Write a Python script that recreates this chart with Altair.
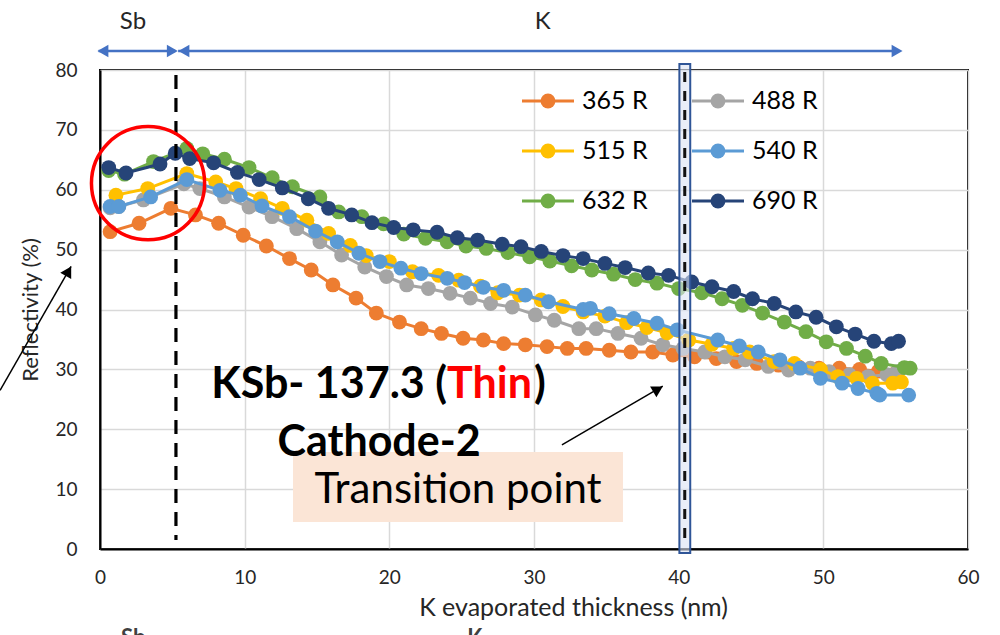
import altair as alt
import pandas as pd

# ---- measured reflectivity series (x: K thickness in nm, y: reflectivity in %) ----
series_names = ["365 R", "488 R", "515 R", "540 R", "632 R", "690 R"]
series_colors = ["#ed7d31", "#a5a5a5", "#ffc000", "#5b9bd5", "#70ad47", "#264478"]

x_365 = [0.7, 2.7, 4.9, 6.6, 8.2, 9.9, 11.5, 13.1, 14.6, 16.1, 17.7, 19.1, 20.7, 22.2, 23.6, 25.1,
         26.5, 27.9, 29.4, 30.9, 32.3, 33.6, 35.2, 36.7, 38.2, 39.6, 41.1, 42.6, 44.0, 45.4, 46.9,
         48.3, 49.7, 51.1, 52.5, 53.8, 55.0]
y_365 = [53.0, 54.4, 56.9, 55.8, 54.4, 52.4, 50.6, 48.5, 46.6, 44.1, 41.9, 39.4, 37.9, 36.8, 36.0, 35.2,
         34.9, 34.3, 34.1, 33.8, 33.5, 33.5, 33.2, 32.9, 32.9, 32.4, 32.1, 31.8, 31.3, 31.0, 30.7,
         30.4, 30.2, 30.2, 30.0, 29.7, 29.4]

x_488 = [0.7, 1.3, 3.0, 5.8, 6.9, 8.6, 10.3, 11.9, 13.6, 15.2, 16.7, 18.3, 19.8, 21.2, 22.7, 24.2,
         25.6, 27.0, 28.5, 30.1, 31.4, 33.1, 34.3, 35.8, 37.4, 38.9, 40.3, 41.8, 43.2, 44.6, 46.2,
         47.6, 49.1, 50.4, 51.8, 53.1, 54.4, 55.1]
y_488 = [57.0, 57.2, 58.3, 61.0, 60.2, 58.8, 57.1, 55.5, 53.5, 51.3, 49.1, 47.1, 45.5, 44.1, 43.5, 42.7,
         41.9, 41.0, 40.4, 39.1, 38.2, 36.8, 36.8, 36.0, 35.2, 34.1, 33.5, 32.9, 32.1, 31.6, 30.5,
         29.9, 30.2, 29.6, 29.1, 28.8, 29.1, 29.6]

x_515 = [1.1, 3.3, 6.0, 8.0, 9.4, 11.1, 12.6, 14.3, 15.8, 17.3, 18.4, 20.0, 21.6, 23.4, 24.8, 26.3,
         27.5, 29.0, 30.5, 32.0, 33.4, 34.9, 36.4, 37.8, 39.2, 40.7, 42.3, 43.8, 44.9, 46.6, 48.0,
         49.8, 51.0, 52.3, 53.4, 54.8, 55.4]
y_515 = [59.1, 60.2, 62.7, 61.3, 60.2, 58.5, 56.9, 54.9, 52.7, 50.7, 49.0, 48.0, 46.3, 45.7, 44.9, 43.9,
         42.8, 42.4, 41.6, 40.5, 39.6, 38.9, 37.8, 37.0, 36.1, 34.9, 34.2, 33.5, 32.9, 31.3, 31.0,
         30.0, 28.8, 28.5, 27.7, 27.7, 27.9]

x_540 = [0.7, 1.3, 3.5, 6.0, 8.3, 9.7, 11.2, 13.1, 14.9, 16.4, 17.9, 19.35, 20.8, 22.2, 24.0, 25.2,
         26.5, 27.9, 29.4, 31.0, 33.4, 33.9, 35.2, 36.9, 38.5, 39.9, 42.7, 44.2, 45.5, 47.0, 48.4,
         49.8, 51.3, 52.4, 53.7, 53.9, 55.9]
y_540 = [57.2, 57.2, 58.8, 61.7, 59.9, 59.1, 57.3, 55.5, 53.1, 51.3, 49.4, 48.0, 46.9, 46.0, 45.2, 44.5,
         43.7, 43.2, 42.4, 41.3, 40.0, 40.2, 39.3, 38.5, 37.7, 36.6, 34.9, 33.9, 32.9, 31.6, 30.2,
         28.5, 27.7, 26.8, 26.0, 25.7, 25.7]

x_632 = [0.6, 1.7, 3.7, 6.0, 7.1, 8.6, 10.3, 11.9, 13.3, 15.2, 16.5, 18.1, 19.6, 21.0, 22.5, 24.0,
         25.3, 26.7, 28.2, 29.7, 31.1, 32.6, 34.0, 35.5, 37.0, 38.5, 40.0, 41.6, 43.0, 44.4, 45.8,
         47.3, 48.8, 50.2, 51.6, 52.9, 54.0, 55.6, 56.0]
y_632 = [63.2, 62.6, 64.7, 66.9, 66.0, 65.1, 63.7, 62.0, 60.5, 58.8, 56.3, 55.5, 54.3, 52.6, 51.9, 51.3,
         50.6, 50.2, 49.5, 48.8, 48.1, 47.3, 46.6, 45.9, 45.0, 44.4, 43.5, 42.8, 41.8, 40.7, 39.4,
         37.9, 36.3, 34.6, 33.5, 32.2, 31.0, 30.3, 30.2]

x_690 = [0.6, 1.8, 4.15, 5.2, 6.2, 7.85, 9.5, 11.0, 12.6, 14.4, 15.8, 17.4, 18.8, 20.3, 21.65, 23.3,
         24.7, 26.1, 27.8, 29.1, 30.5, 32.0, 33.4, 34.9, 36.3, 37.9, 39.3, 40.9, 42.3, 43.8, 45.1,
         46.6, 48.1, 49.5, 50.9, 52.2, 53.5, 54.7, 55.2]
y_690 = [63.7, 62.8, 64.3, 66.1, 65.2, 64.5, 62.9, 61.7, 60.3, 58.5, 56.9, 55.8, 54.5, 53.7, 53.3, 52.9,
         52.0, 51.6, 50.9, 50.5, 49.7, 49.0, 48.5, 47.7, 47.0, 46.1, 45.7, 44.6, 43.8, 43.0, 41.8,
         41.0, 39.6, 38.7, 37.1, 35.9, 34.7, 34.3, 34.7]

series_x = [x_365, x_488, x_515, x_540, x_632, x_690]
series_y = [y_365, y_488, y_515, y_540, y_632, y_690]

# ---- annotation anchors (data units) ----
sb_boundary = 5.25          # end of Sb deposition
transition_x = 40.42        # transition point
transition_span = [40.05, 40.8]

FONT = "Lato"
W, H = 868, 479
MARK_SIZE = 220

xs = alt.Scale(domain=[0, 60], nice=False, zero=False)
ys = alt.Scale(domain=[0, 80], nice=False, zero=False)

x_axis = alt.Axis(
    title="K evaporated thickness (nm)", values=[0, 10, 20, 30, 40, 50, 60],
    grid=True, gridColor="#d9d9d9", gridWidth=1.5, ticks=False,
    domainColor="black", domainWidth=2, labelFontSize=19, labelFont=FONT,
    labelColor="#262626", labelPadding=19, labelFlush=False,
    titleFontSize=25, titleFont=FONT, titleFontWeight="normal", titleColor="#262626",
    titlePadding=8, titleX=473,
)
y_axis = alt.Axis(
    title="Reflectivity (%)", values=[0, 10, 20, 30, 40, 50, 60, 70, 80],
    grid=True, gridColor="#d9d9d9", gridWidth=1.5, ticks=False,
    domainColor="black", domainWidth=2, labelFontSize=19, labelFont=FONT,
    labelColor="#262626", labelPadding=23, labelFlush=False,
    titleFontSize=22, titleFont=FONT, titleFontWeight="normal", titleColor="#262626",
    titlePadding=12,
)


def X(field):
    return alt.X(f"{field}:Q", scale=xs, axis=x_axis)


def Y(field):
    return alt.Y(f"{field}:Q", scale=ys, axis=y_axis)


layers = []

# text box behind "Transition point"
box = pd.DataFrame({"x": [13.34], "x2": [36.15], "y": [4.5], "y2": [16.2]})
layers.append(alt.Chart(box).mark_rect(fill="#fbe5d6").encode(
    x=X("x"), x2="x2", y=Y("y"), y2="y2"))

# data series: line then markers, one series at a time
for name, color, xv, yv in zip(series_names, series_colors, series_x, series_y):
    df = pd.DataFrame({"x": xv, "y": yv, "series": name})
    base = alt.Chart(df)
    layers.append(base.mark_line(color=color, strokeWidth=3).encode(x=X("x"), y=Y("y")))
    layers.append(base.mark_circle(color=color, size=MARK_SIZE, opacity=1).encode(x=X("x"), y=Y("y")))

# dashed boundary between Sb and K
sb_df = pd.DataFrame({"x": [sb_boundary]})
layers.append(alt.Chart(sb_df).mark_rule(color="black", strokeWidth=3.2, strokeDash=[14, 9]).encode(
    x=X("x"), y=alt.value(5), y2=alt.value(470)))

# transition marker: framed band with dashed core
tr_df = pd.DataFrame({"x": [transition_span[0]], "x2": [transition_span[1]]})
layers.append(alt.Chart(tr_df).mark_rect(fill="#dae3f3", fillOpacity=0.6, stroke="#2f5597",
                                         strokeWidth=2).encode(
    x=X("x"), x2="x2", y=alt.value(-6), y2=alt.value(483)))
trc_df = pd.DataFrame({"x": [transition_x]})
layers.append(alt.Chart(trc_df).mark_rule(color="#111111", strokeWidth=3, strokeDash=[10, 9]).encode(
    x=X("x"), y=alt.value(2), y2=alt.value(476)))

# red circle around the Sb region
circ = pd.DataFrame({"x": [3.32], "y": [61.1]})
layers.append(alt.Chart(circ).mark_point(shape="circle", size=12800, filled=False, color="#ff0000",
                                         strokeWidth=3.5, opacity=1).encode(x=X("x"), y=Y("y")))

# top range arrows (Sb / K)
ARROW_BLUE = "#4472c4"
spans = pd.DataFrame({"x": [-0.1, 5.4], "x2": [5.2, 55.2]})
layers.append(alt.Chart(spans).mark_rule(color=ARROW_BLUE, strokeWidth=2.5).encode(
    x=X("x"), x2="x2", y=alt.value(-19)))
heads = pd.DataFrame({"x": [0.2, 5.0, 5.8, 55.1],
                      "shape": ["triangle-left", "triangle-right", "triangle-left", "triangle-right"]})
layers.append(alt.Chart(heads).mark_point(filled=True, size=160, color=ARROW_BLUE, opacity=1).encode(
    x=X("x"), y=alt.value(-19), shape=alt.Shape("shape:N", scale=None)))
top_labels = pd.DataFrame({"x": [2.28, 30.6], "t": ["Sb", "K"]})
layers.append(alt.Chart(top_labels).mark_text(font=FONT, fontSize=24, color="#262626",
                                              baseline="middle").encode(
    x=X("x"), y=alt.value(-48), text="t:N"))

# black pointer arrows
arrows = pd.DataFrame({"x": [-6.91, 31.93], "y": [26.5, 17.4], "x2": [-2.0, 38.9], "y2": [47.2, 27.2]})
layers.append(alt.Chart(arrows).mark_rule(color="black", strokeWidth=1.5).encode(
    x=X("x"), y=Y("y"), x2="x2", y2="y2"))
arrow_heads = pd.DataFrame({"x": [-2.18, 38.57], "y": [46.4, 26.7], "angle": [30, 60]})
layers.append(alt.Chart(arrow_heads).mark_point(shape="triangle-up", filled=True, size=160,
                                                color="black", opacity=1).encode(
    x=X("x"), y=Y("y"), angle=alt.Angle("angle:Q", scale=None)))

# annotation texts
BIG = 43
t1 = pd.DataFrame({"x": [23.99], "y": [25.2], "t": ["KSb- 137.3 ("]})
layers.append(alt.Chart(t1).mark_text(font=FONT, fontWeight="bold", fontSize=BIG, color="black",
                                      align="right", baseline="alphabetic").encode(
    x=X("x"), y=Y("y"), text="t:N"))
t2 = pd.DataFrame({"x": [23.99], "y": [25.2], "t": ["Thin"]})
layers.append(alt.Chart(t2).mark_text(font=FONT, fontWeight="bold", fontSize=BIG, color="#ff0000",
                                      align="left", baseline="alphabetic").encode(
    x=X("x"), y=Y("y"), text="t:N"))
t3 = pd.DataFrame({"x": [30.0], "y": [25.2], "t": [")"]})
layers.append(alt.Chart(t3).mark_text(font=FONT, fontWeight="bold", fontSize=BIG, color="black",
                                      align="left", baseline="alphabetic").encode(
    x=X("x"), y=Y("y"), text="t:N"))
t4 = pd.DataFrame({"x": [19.29], "y": [15.5], "t": ["Cathode-2"]})
layers.append(alt.Chart(t4).mark_text(font=FONT, fontWeight="bold", fontSize=BIG, color="black",
                                      align="center", baseline="alphabetic").encode(
    x=X("x"), y=Y("y"), text="t:N"))
t5 = pd.DataFrame({"x": [24.75], "y": [7.68], "t": ["Transition point"]})
layers.append(alt.Chart(t5).mark_text(font=FONT, fontSize=42, color="black",
                                      align="center", baseline="alphabetic").encode(
    x=X("x"), y=Y("y"), text="t:N"))

# partially visible labels at the lower edge
low = pd.DataFrame({"x": [2.3, 25.9], "t": ["Sb", "K"]})
layers.append(alt.Chart(low).mark_text(font=FONT, fontWeight="bold", fontSize=22, color="#404040",
                                       baseline="top").encode(
    x=X("x"), y=alt.value(558), text="t:N"))

# legend: two columns, three rows
one = pd.DataFrame({"k": [0]})
for i, (name, color) in enumerate(zip(series_names, series_colors)):
    col, row = i % 2, i // 2
    x0 = 422 + col * 170
    yy = 31 + row * 50
    layers.append(alt.Chart(one).mark_rule(color=color, strokeWidth=3).encode(
        x=alt.value(x0), x2=alt.value(x0 + 52), y=alt.value(yy)))
    layers.append(alt.Chart(one).mark_circle(color=color, size=MARK_SIZE, opacity=1).encode(
        x=alt.value(x0 + 26), y=alt.value(yy)))
    layers.append(alt.Chart(one).mark_text(font=FONT, fontSize=25, color="black", align="left",
                                           baseline="middle").encode(
        x=alt.value(x0 + 60), y=alt.value(yy), text=alt.value(name)))

chart = alt.layer(*layers).properties(
    width=W, height=H,
    autosize=alt.AutoSizeParams(type="none"),
    padding={"left": 100, "top": 70, "right": 32, "bottom": 86},
    background="white",
).configure_view(stroke="black", strokeWidth=2)

chart.save("out.html", embed_options={"renderer": "svg", "actions": False})
